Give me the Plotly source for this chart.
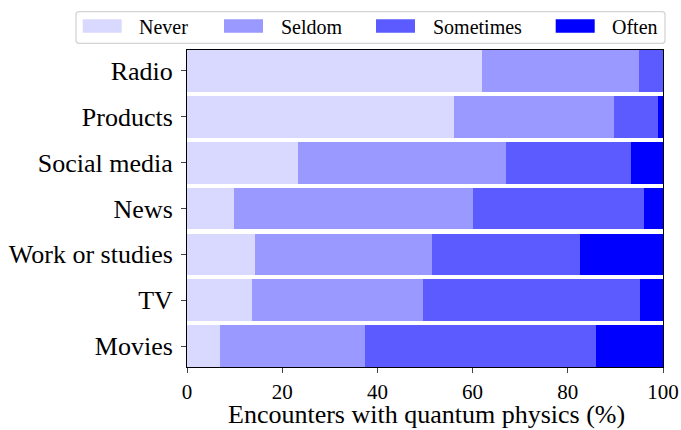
import plotly.graph_objects as go

categories = ["Movies", "TV", "Work or studies", "News", "Social media", "Products", "Radio"]
never = [6.9, 13.6, 14.3, 9.9, 23.4, 56.0, 62.0]
seldom = [30.5, 36.0, 37.2, 50.1, 43.7, 33.6, 32.9]
sometimes = [48.6, 45.6, 31.1, 36.1, 26.2, 9.4, 5.1]
often = [14.0, 4.8, 17.4, 3.9, 6.7, 1.0, 0.0]

names = ["Never", "Seldom", "Sometimes", "Often"]
colors = ["#d9d9ff", "#9999ff", "#5b5bff", "#0000ff"]
values = [never, seldom, sometimes, often]
x_title = "Encounters with quantum physics (%)"

FONT = "Liberation Serif"
W, H = 681, 430
L, R, T, B = 187, 18, 50, 63
PW, PH = W - L - R, H - T - B


def px(xp):
    return (xp - L) / PW


def py(yp):
    return 1 - (yp - T) / PH


fig = go.Figure()
for name, vals, col in zip(names, values, colors):
    fig.add_trace(go.Bar(y=categories, x=vals, name=name, orientation="h", showlegend=False,
                         marker=dict(color=col, line=dict(width=0)), width=0.91))

# custom legend (wide rectangular swatches like the reference)
shapes = []
annotations = []
x0, x1, y0, y1, r = px(76), px(665), py(11.7), py(43.3), 3
rx, ry = r / PW, r / PH
path = (f"M{x0+rx},{y0} L{x1-rx},{y0} Q{x1},{y0} {x1},{y0-ry} L{x1},{y1+ry} Q{x1},{y1} {x1-rx},{y1} "
        f"L{x0+rx},{y1} Q{x0},{y1} {x0},{y1+ry} L{x0},{y0-ry} Q{x0},{y0} {x0+rx},{y0} Z")
shapes.append(dict(type="path", xref="paper", yref="paper", path=path,
                   line=dict(color="#d4d4d4", width=1.3), fillcolor="white", layer="above"))
swatch_x = [82.7, 224, 376, 555.7]
for sx, name, col in zip(swatch_x, names, colors):
    shapes.append(dict(type="rect", xref="paper", yref="paper", x0=px(sx), x1=px(sx + 39),
                       y0=py(19.3), y1=py(32.7), fillcolor=col, line=dict(width=0), layer="above"))
    annotations.append(dict(xref="paper", yref="paper", x=px(sx + 54.5), y=py(26.5), text=name,
                            showarrow=False, xanchor="left", yanchor="middle",
                            font=dict(size=20, family=FONT, color="black")))

# x-axis title
annotations.append(dict(xref="paper", yref="paper", x=px(426), y=py(399), text=x_title,
                        showarrow=False, xanchor="center", yanchor="top", borderpad=0,
                        font=dict(size=26, family=FONT, color="black")))

fig.update_layout(
    width=W, height=H,
    barmode="stack",
    plot_bgcolor="white", paper_bgcolor="white",
    margin=dict(l=L, r=R, t=T, b=B, autoexpand=False),
    font=dict(family=FONT, color="black"),
    showlegend=False,
    shapes=shapes, annotations=annotations,
    xaxis=dict(range=[0, 100], tickvals=[0, 20, 40, 60, 80, 100], ticks="outside", ticklen=5,
               showline=True, linecolor="black", mirror=True, showgrid=False, zeroline=False,
               automargin=False, tickfont=dict(size=21, family=FONT), ticklabelstandoff=1),
    yaxis=dict(range=[-0.455, 6.455], ticks="outside", ticklen=5, showline=True, linecolor="black",
               mirror=True, showgrid=False, automargin=False,
               tickfont=dict(size=26, family=FONT), ticklabelstandoff=3),
)
fig.write_html("out.html", post_script="document.body.style.margin='0';",
               config={"displayModeBar": False})
